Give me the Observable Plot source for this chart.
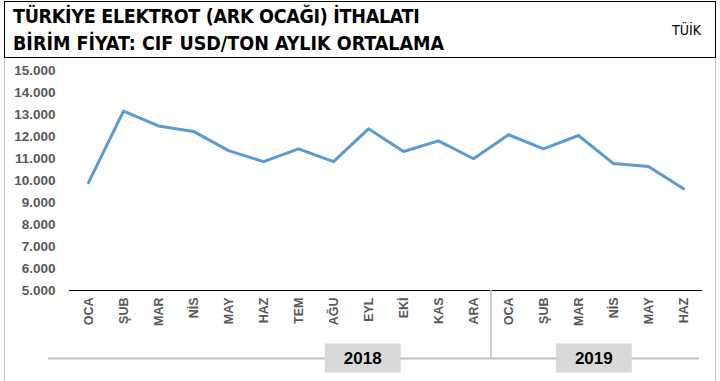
<!DOCTYPE html>
<html>
<head>
<meta charset="utf-8">
<script src="https://cdn.jsdelivr.net/npm/d3@7"></script>
<script src="https://cdn.jsdelivr.net/npm/@observablehq/plot@0.6"></script>
<style>
  html, body { margin: 0; padding: 0; background: #fff; }
  #wrap { position: relative; width: 720px; height: 381px; overflow: hidden; }
  #chartbox { position: absolute; left: 4px; top: 0; width: 712px; height: 381px;
    border-left: 1.5px solid #c8c8c8; border-right: 1.5px solid #c8c8c8; box-sizing: border-box; }
  #header { position: absolute; left: 4px; top: 1px; width: 712px; height: 57px;
    border: 1.5px solid #000; box-sizing: border-box; background: #fff; }
  .t { position: absolute; left: 8px; font-family: "DejaVu Sans Condensed", "DejaVu Sans", sans-serif;
    font-weight: bold; font-size: 19.5px; color: #000; white-space: nowrap; }
  #src { position: absolute; right: 14px; top: 20px; font-family: "DejaVu Sans Condensed", "DejaVu Sans", sans-serif;
    font-size: 14px; color: #000; }
  #plot { position: absolute; left: 0; top: 58px; }
</style>
</head>
<body>
<div id="wrap">
  <div id="chartbox"></div>
  <div id="header">
    <div class="t" style="top:3px;letter-spacing:-0.3px">TÜRKİYE ELEKTROT (ARK OCAĞI) İTHALATI</div>
    <div class="t" style="top:30px">BİRİM FİYAT: CIF USD/TON AYLIK ORTALAMA</div>
    <div id="src">TÜİK</div>
  </div>
  <div id="plot"></div>
</div>
<script>
const months2018 = ["OCA","ŞUB","MAR","NİS","MAY","HAZ","TEM","AĞU","EYL","EKİ","KAS","ARA"];
const months2019 = ["OCA","ŞUB","MAR","NİS","MAY","HAZ"];
const values2018 = [9900, 13150, 12480, 12230, 11360, 10860, 11440, 10860, 12350, 11320, 11800, 10990];
const values2019 = [12080, 11440, 12045, 10770, 10640, 9620];
const years = ["2018", "2019"];
const yTicks = [5000, 6000, 7000, 8000, 9000, 10000, 11000, 12000, 13000, 14000, 15000];

const data = [
  ...months2018.map((m, i) => ({key: "2018-" + m, month: m, year: "2018", value: values2018[i]})),
  ...months2019.map((m, i) => ({key: "2019-" + m, month: m, year: "2019", value: values2019[i]}))
];
const keys = data.map(d => d.key);
const monthOf = new Map(data.map(d => [d.key, d.month]));

const fmt = d3.formatLocale({decimal: ",", thousands: ".", grouping: [3], currency: ["", ""]}).format(",.0f");

const W = 720, H = 323;
const mL = 69, mR = 18, mT = 12, mB = 91;
const step = (W - mL - mR) / keys.length;
const yearRowOffset = 68;

// year label anchors (month key + offset in steps, as placed in the reference)
const yearLabels = [
  {year: years[0], key: "2018-EYL", off: -0.15},
  {year: years[1], key: "2019-MAR", off: 0.45}
];

const plot = Plot.plot({
  width: W, height: H,
  marginLeft: mL, marginRight: mR, marginTop: mT, marginBottom: mB,
  style: {fontFamily: "Liberation Sans, Arial, sans-serif", background: "transparent", overflow: "visible"},
  x: {type: "point", domain: keys, padding: 0.5, label: null},
  y: {domain: [5000, 15000], label: null},
  marks: [
    Plot.axisY({ticks: yTicks, tickFormat: fmt, tickSize: 0, tickPadding: 14, fontSize: 13.5, fontWeight: "bold", fill: "#595959", label: null}),
    Plot.axisX({tickFormat: k => monthOf.get(k), tickRotate: -90, tickSize: 0, tickPadding: 7, fontSize: 12.5, fontWeight: "bold", fill: "#595959", label: null}),
    Plot.ruleY([5000], {stroke: "#000", strokeWidth: 1.2}),
    Plot.ruleY([5000], {stroke: "#bfbfbf", strokeWidth: 2, dy: yearRowOffset, insetLeft: -21, insetRight: 3}),
    Plot.ruleX(["2019-OCA"], {y1: 5000, y2: 5000, stroke: "#bfbfbf", strokeWidth: 1.5, dx: -step / 2, insetBottom: -yearRowOffset}),
    Plot.line(data, {x: "key", y: "value", stroke: "#5B9BD5", strokeWidth: 3, strokeLinejoin: "round", strokeLinecap: "round"}),
    Plot.text(yearLabels, {x: "key", text: "year", frameAnchor: "bottom", fontSize: 17, fontWeight: "bold", fill: "#000",
      fontFamily: "Liberation Sans, Arial, sans-serif", className: "yearlab"})
  ]
});
document.getElementById("plot").appendChild(plot);

// place year labels on the year row and draw grey boxes behind them
const xs = plot.scale("x"), ys = plot.scale("y");
const rowY = ys.apply(5000) + yearRowOffset;
d3.select(plot).selectAll(".yearlab text").each(function(d, i) {
  const lab = yearLabels[i];
  const t = d3.select(this);
  const b = this.getBBox();
  const m = this.getCTM();
  const cx = m.e + m.a * (b.x + b.width / 2);
  const cy = m.f + m.d * (b.y + b.height / 2);
  const tx = xs.apply(lab.key) + lab.off * step;
  const shift = ` translate(${tx - cx},${rowY - cy})`;
  t.attr("transform", (t.attr("transform") || "") + shift);
  d3.select(this.parentNode).insert("rect", () => this)
    .attr("x", b.x - 19).attr("y", b.y - 5)
    .attr("width", b.width + 38).attr("height", b.height + 10)
    .attr("transform", t.attr("transform"))
    .attr("fill", "#d9d9d9");
});
</script>
</body>
</html>
